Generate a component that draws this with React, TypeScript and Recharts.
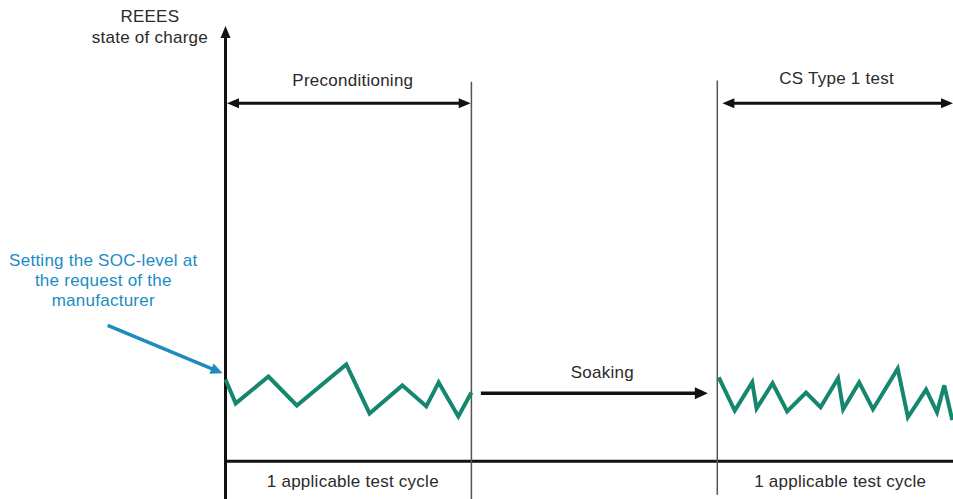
import React from 'react';
import { LineChart, Line, XAxis, YAxis, ReferenceLine, ReferenceDot } from 'recharts';

// time (arbitrary units, 0 = start of test) vs REEES state of charge (%)
const preconditioning = [
  { t: 0, soc: 19.5 },
  { t: 1.4, soc: 13.8 },
  { t: 5.9, soc: 20.2 },
  { t: 9.8, soc: 13.3 },
  { t: 16.6, soc: 23.1 },
  { t: 19.8, soc: 11.4 },
  { t: 24.3, soc: 18.1 },
  { t: 27.6, soc: 13.1 },
  { t: 29.3, soc: 18.8 },
  { t: 32.0, soc: 10.7 },
  { t: 33.8, soc: 16.4 },
];

const csTest = [
  { t: 67.8, soc: 20.0 },
  { t: 70.0, soc: 12.1 },
  { t: 72.4, soc: 18.8 },
  { t: 73.0, soc: 12.6 },
  { t: 75.2, soc: 18.6 },
  { t: 77.2, soc: 11.9 },
  { t: 79.8, soc: 16.4 },
  { t: 81.8, soc: 12.9 },
  { t: 84.2, soc: 19.8 },
  { t: 84.9, soc: 12.4 },
  { t: 87.1, soc: 18.8 },
  { t: 89.0, soc: 12.4 },
  { t: 92.4, soc: 22.1 },
  { t: 93.8, soc: 10.5 },
  { t: 96.3, soc: 17.1 },
  { t: 97.8, soc: 11.7 },
  { t: 98.8, soc: 18.1 },
  { t: 99.9, soc: 9.8 },
];

// phase boundaries
const preEnd = 33.8;
const csStart = 67.6;
const tMax = 100;

const notes = [
  { t: -10.4, soc: 106.2, lines: ['REEES'], color: '#2a2a2a' },
  { t: -10.4, soc: 101.2, lines: ['state of charge'], color: '#2a2a2a' },
  { t: 17.5, soc: 91, lines: ['Preconditioning'], color: '#2a2a2a' },
  { t: 84, soc: 91.4, lines: ['CS Type 1 test'], color: '#2a2a2a' },
  { t: 51.8, soc: 21.4, lines: ['Soaking'], color: '#2a2a2a' },
  { t: -16.8, soc: 43.2, lines: ['Setting the SOC-level at', 'the request of the', 'manufacturer'], color: '#1a8cc4' },
  { t: 17.5, soc: -4.8, lines: ['1 applicable test cycle'], color: '#2a2a2a' },
  { t: 84.5, soc: -4.8, lines: ['1 applicable test cycle'], color: '#2a2a2a' },
];

const FONT = '"Liberation Sans", Arial, sans-serif';

const arrowShape = (color: string, width: number, heads: 'none' | 'end' | 'both', len = 12, half = 5) =>
  (props: any) => {
    const { x1, y1, x2, y2 } = props;
    const dx = x2 - x1;
    const dy = y2 - y1;
    const d = Math.sqrt(dx * dx + dy * dy) || 1;
    const ux = dx / d;
    const uy = dy / d;
    const head = (px: number, py: number, sx: number, sy: number) => {
      const bx = px - sx * len;
      const by = py - sy * len;
      return `${px},${py} ${bx - sy * half},${by + sx * half} ${bx + sy * half},${by - sx * half}`;
    };
    const sx1 = heads === 'both' ? x1 + ux * (len - 2) : x1;
    const sy1 = heads === 'both' ? y1 + uy * (len - 2) : y1;
    const sx2 = heads !== 'none' ? x2 - ux * (len - 2) : x2;
    const sy2 = heads !== 'none' ? y2 - uy * (len - 2) : y2;
    return (
      <g>
        <line x1={sx1} y1={sy1} x2={sx2} y2={sy2} stroke={color} strokeWidth={width} />
        {heads !== 'none' && <polygon points={head(x2, y2, ux, uy)} fill={color} />}
        {heads === 'both' && <polygon points={head(x1, y1, -ux, -uy)} fill={color} />}
      </g>
    );
  };

const noteShape = (lines: string[], color: string) => (props: any) => {
  const { cx, cy } = props;
  const lh = 20;
  const y0 = cy - ((lines.length - 1) * lh) / 2;
  return (
    <text x={cx} y={y0} fill={color} fontSize={17} letterSpacing={0.25} fontFamily={FONT} textAnchor="middle" dominantBaseline="central">
      {lines.map((s, i) => (
        <tspan key={i} x={cx} y={y0 + i * lh}>{s}</tspan>
      ))}
    </text>
  );
};

export default function App() {
  return (
    <div style={{ position: 'absolute', left: 0, top: 0, background: '#fff' }}>
      <LineChart width={953} height={499} margin={{ top: 0, right: 0, bottom: 0, left: 0 }}>
        <XAxis type="number" dataKey="t" domain={[-31, tMax]} hide allowDataOverflow />
        <YAxis type="number" domain={[-9, 110]} hide allowDataOverflow />

        <ReferenceLine segment={[{ x: 0, y: -9 }, { x: 0, y: 103.8 }]} shape={arrowShape('#111', 3, 'end', 12, 5)} />
        <ReferenceLine segment={[{ x: 0, y: 0 }, { x: tMax, y: 0 }]} shape={arrowShape('#111', 3, 'none')} />
        <ReferenceLine segment={[{ x: preEnd, y: -9 }, { x: preEnd, y: 90.5 }]} shape={arrowShape('#555', 1.5, 'none')} />
        <ReferenceLine segment={[{ x: csStart, y: -8 }, { x: csStart, y: 90.8 }]} shape={arrowShape('#555', 1.5, 'none')} />

        <ReferenceLine segment={[{ x: 0.2, y: 85.4 }, { x: preEnd - 0.1, y: 85.4 }]} shape={arrowShape('#111', 3, 'both', 12, 5)} />
        <ReferenceLine segment={[{ x: 68.3, y: 85.4 }, { x: tMax, y: 85.4 }]} shape={arrowShape('#111', 3, 'both', 12, 5)} />
        <ReferenceLine segment={[{ x: 35.1, y: 16.2 }, { x: 66.3, y: 16.2 }]} shape={arrowShape('#111', 3.5, 'end', 13, 6)} />
        <ReferenceLine segment={[{ x: -16.2, y: 32.4 }, { x: -0.4, y: 21 }]} shape={arrowShape('#1f8ac0', 3.5, 'end', 12, 5.5)} />

        <Line data={preconditioning} dataKey="soc" stroke="#16876f" strokeWidth={4} dot={false} activeDot={false} isAnimationActive={false} type="linear" />
        <Line data={csTest} dataKey="soc" stroke="#16876f" strokeWidth={4} dot={false} activeDot={false} isAnimationActive={false} type="linear" />

        {notes.map((n, i) => (
          <ReferenceDot key={i} x={n.t} y={n.soc} r={0} shape={noteShape(n.lines, n.color)} />
        ))}
      </LineChart>
    </div>
  );
}
